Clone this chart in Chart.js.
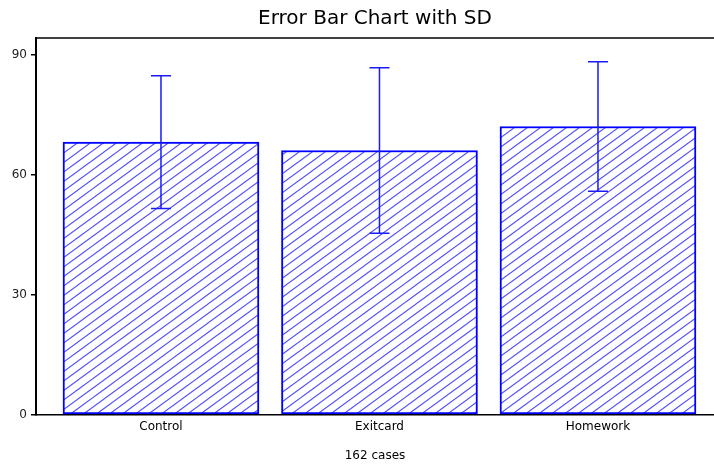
<!DOCTYPE html>
<html>
<head>
<meta charset="utf-8">
<script src="https://cdn.jsdelivr.net/npm/chart.js@4/dist/chart.umd.min.js"></script>
<style>
html,body{margin:0;padding:0;background:#fff;}
#wrap{width:714px;height:464px;}
</style>
</head>
<body>
<div id="wrap"><canvas id="c" width="714" height="464"></canvas></div>
<script>
const categories = ['Control', 'Exitcard', 'Homework'];
const means = [68.2, 66.1, 72.1];
const sds = [16.6, 20.7, 16.2];
const yTicks = [0, 30, 60, 90];
const chartTitle = 'Error Bar Chart with SD';
const footerText = '162 cases';

const FONT = "'DejaVu Sans', sans-serif";

function makeHatch() {
  const w = 26, h = 19;
  const pc = document.createElement('canvas');
  pc.width = w; pc.height = h;
  const p = pc.getContext('2d');
  p.fillStyle = '#ffffff';
  p.fillRect(0, 0, w, h);
  p.strokeStyle = '#5050ff';
  p.lineWidth = 1.1;
  p.beginPath();
  for (let k = -3; k <= 3; k++) {
    const dx = k * 13;
    p.moveTo(dx - w, 2 * h);
    p.lineTo(dx + 2 * w, -h);
  }
  p.stroke();
  return document.getElementById('c').getContext('2d').createPattern(pc, 'repeat');
}

const errorBars = {
  id: 'errorBars',
  afterDatasetsDraw(chart) {
    const ctx = chart.ctx;
    const xs = chart.scales.x, ys = chart.scales.y;
    ctx.save();
    ctx.strokeStyle = '#1a1aff';
    ctx.lineWidth = 1.5;
    means.forEach((m, i) => {
      const x = xs.getPixelForValue(i);
      const yt = ys.getPixelForValue(m + sds[i]);
      const yb = ys.getPixelForValue(m - sds[i]);
      ctx.beginPath();
      ctx.moveTo(x, yt); ctx.lineTo(x, yb);
      ctx.moveTo(x - 10, yt); ctx.lineTo(x + 10, yt);
      ctx.moveTo(x - 10, yb); ctx.lineTo(x + 10, yb);
      ctx.stroke();
    });
    ctx.restore();
  }
};

const topBorder = {
  id: 'topBorder',
  afterDraw(chart) {
    const a = chart.chartArea, ctx = chart.ctx;
    ctx.save();
    ctx.strokeStyle = '#000';
    ctx.lineWidth = 1.5;
    ctx.beginPath();
    ctx.moveTo(a.left, a.top);
    ctx.lineTo(chart.width, a.top);
    ctx.stroke();
    ctx.restore();
  }
};

new Chart(document.getElementById('c'), {
  type: 'bar',
  data: {
    datasets: [{
      data: categories.map((c, i) => ({ x: i, y: means[i] })),
      backgroundColor: makeHatch(),
      borderColor: '#0000ff',
      borderWidth: 2,
      borderSkipped: false,
      barThickness: 196
    }]
  },
  options: {
    responsive: false,
    devicePixelRatio: 1,
    animation: false,
    layout: { padding: 0 },
    plugins: {
      legend: { display: false },
      tooltip: { enabled: false },
      title: {
        display: true,
        text: chartTitle,
        fullSize: false,
        color: '#000',
        font: { family: FONT, size: 20, weight: 'normal' },
        padding: { top: 7, bottom: 7 }
      },
      subtitle: {
        display: true,
        position: 'bottom',
        text: footerText,
        fullSize: false,
        color: '#000',
        font: { family: FONT, size: 12, weight: 'normal' },
        padding: { top: 0, bottom: 1 }
      }
    },
    scales: {
      x: {
        type: 'linear',
        offset: false,
        min: -0.572,
        max: 2.531,
        afterBuildTicks(s) { s.ticks = categories.map((c, i) => ({ value: i })); },
        afterFit(s) { s.height = 34; },
        ticks: {
          callback: (v) => categories[v],
          color: '#000',
          font: { family: FONT, size: 12 },
          padding: 5,
          maxRotation: 0,
          autoSkip: false
        },
        grid: { display: false, drawTicks: false, offset: false },
        border: { display: true, color: '#000', width: 1.5 }
      },
      y: {
        min: 0,
        max: 94.25,
        afterBuildTicks(s) { s.ticks = yTicks.map(v => ({ value: v })); },
        afterFit(s) { s.width = 36; },
        ticks: {
          color: '#222',
          font: { family: FONT, size: 12 },
          padding: 4
        },
        grid: { drawOnChartArea: false, drawTicks: true, tickLength: 5, color: '#000', lineWidth: 1.5 },
        border: { display: true, color: '#000', width: 2 }
      }
    }
  },
  plugins: [errorBars, topBorder]
});
</script>
</body>
</html>
